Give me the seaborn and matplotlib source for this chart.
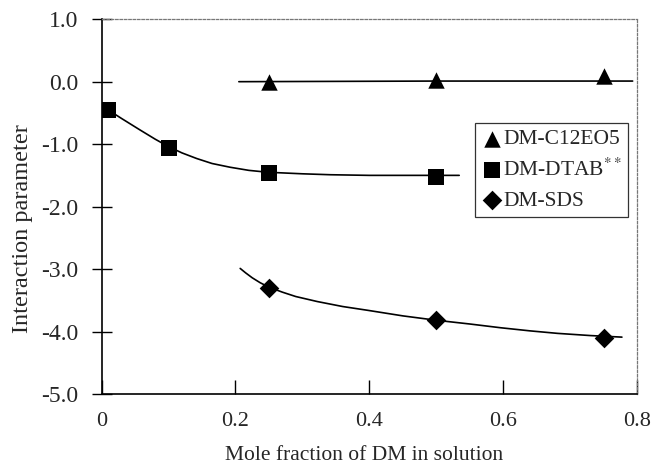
import matplotlib
matplotlib.use("Agg")
import matplotlib.pyplot as plt
import seaborn as sns
import pandas as pd

# Measured data points
c12_x = [0.25, 0.50, 0.75]
c12_y = [0.00, 0.03, 0.09]
dtab_x = [0.01, 0.10, 0.25, 0.50]
dtab_y = [-0.46, -1.06, -1.47, -1.53]
sds_x = [0.25, 0.50, 0.75]
sds_y = [-3.30, -3.82, -4.10]

# Fitted curves
c12_fit_x = [0.205, 0.50, 0.793]
c12_fit_y = [0.00, 0.01, 0.01]
dtab_fit_x = [0.011, 0.03, 0.057, 0.08, 0.10, 0.12, 0.142, 0.165, 0.192, 0.22,
              0.248, 0.30, 0.342, 0.40, 0.45, 0.534]
dtab_fit_y = [-0.46, -0.59, -0.77, -0.92, -1.04, -1.14, -1.23, -1.31, -1.37, -1.42,
              -1.45, -1.475, -1.49, -1.50, -1.50, -1.50]
sds_fit_x = [0.207, 0.215, 0.225, 0.237, 0.25, 0.27, 0.29, 0.322, 0.36, 0.397,
             0.45, 0.50, 0.55, 0.596, 0.64, 0.681, 0.73, 0.777]
sds_fit_y = [-2.99, -3.06, -3.14, -3.22, -3.29, -3.37, -3.44, -3.52, -3.60, -3.66,
             -3.75, -3.82, -3.88, -3.94, -3.99, -4.03, -4.065, -4.09]

labels = ["DM-C12EO5", "DM-DTAB$^{**}$", "DM-SDS"]
markers = ["^", "s", "D"]
msizes = [140, 120, 100]

x_ticks = [0, 0.2, 0.4, 0.6, 0.8]
x_ticklabels = ["0", "0.2", "0.4", "0.6", "0.8"]
y_ticks = [1.0, 0.0, -1.0, -2.0, -3.0, -4.0, -5.0]

sns.set_style("white")
plt.rcParams["font.family"] = ["Liberation Serif", "DejaVu Serif"]
plt.rcParams["mathtext.fontset"] = "stix"

fig = plt.figure(figsize=(6.51, 4.69), dpi=100)
ax = fig.add_axes([0.156, 0.160, 0.823, 0.799])

fits = [(c12_fit_x, c12_fit_y), (dtab_fit_x, dtab_fit_y), (sds_fit_x, sds_fit_y)]
pts = [(c12_x, c12_y), (dtab_x, dtab_y), (sds_x, sds_y)]

for (fx, fy) in fits:
    df = pd.DataFrame({"x": fx, "y": fy})
    sns.lineplot(data=df, x="x", y="y", ax=ax, color="black", linewidth=1.2,
                 sort=False, estimator=None, legend=False)

for (px, py), lab, mk, ms in zip(pts, labels, markers, msizes):
    df = pd.DataFrame({"x": px, "y": py})
    sns.scatterplot(data=df, x="x", y="y", ax=ax, marker=mk, s=ms, color="black",
                    edgecolor="black", linewidth=0, label=lab, zorder=5)

ax.set_xlim(0, 0.8)
ax.set_ylim(-5.0, 1.0)
ax.set_xticks(x_ticks)
ax.set_xticklabels(x_ticklabels)
ax.set_yticks(y_ticks)
ax.set_yticklabels([f"{v:.1f}" for v in y_ticks])

ax.tick_params(axis="y", direction="inout", length=15, width=1.0, color="black",
               labelsize=17, pad=9, left=True)
ax.tick_params(axis="x", direction="in", length=10, width=1.0, color="black",
               labelsize=16, pad=13, bottom=True)

for s in ["left", "bottom"]:
    ax.spines[s].set_color("black")
    ax.spines[s].set_linewidth(1.2)
for s in ["top", "right"]:
    ax.spines[s].set_color("#777777")
    ax.spines[s].set_linewidth(0.9)
    ax.spines[s].set_linestyle((0, (2, 1.5)))

ax.set_xlabel("Mole fraction of DM in solution", fontsize=15.5)
ax.xaxis.set_label_coords(0.49, -0.14)
ax.set_ylabel("Interaction parameter", fontsize=17.5)
ax.yaxis.set_label_coords(-0.128, 0.44)

leg = ax.legend(loc="upper left", bbox_to_anchor=(475 / 651, 1 - 122.7 / 469),
                bbox_transform=fig.transFigure, frameon=True, fancybox=False,
                fontsize=15.5, handletextpad=0.0, handlelength=1.0,
                borderpad=0.3, labelspacing=0.45, borderaxespad=0)
leg.get_frame().set_edgecolor("black")
leg.get_frame().set_linewidth(0.9)

fig.savefig("out.png", dpi=100)
